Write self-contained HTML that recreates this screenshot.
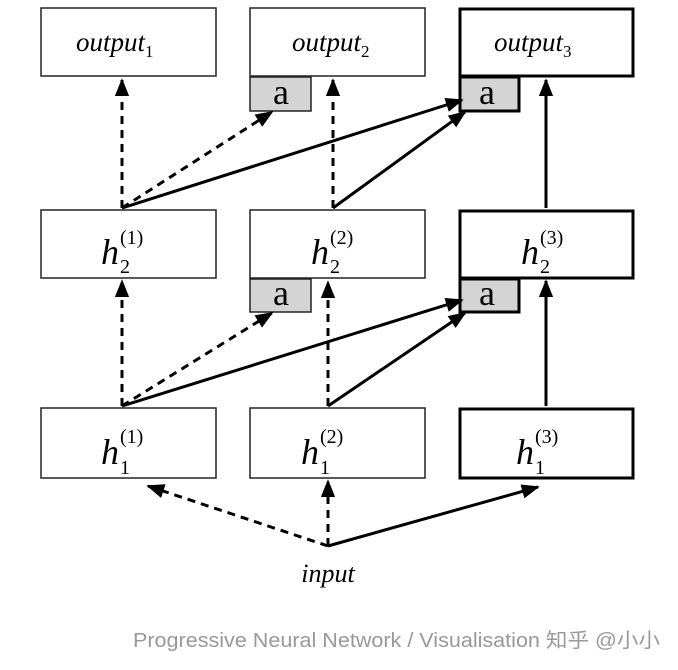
<!DOCTYPE html>
<html><head><meta charset="utf-8"><style>
html,body{margin:0;padding:0;background:#fff;width:678px;height:670px;overflow:hidden}
svg{display:block}
text{font-family:"Liberation Serif",serif}
</style></head><body>
<svg width="678" height="670" viewBox="0 0 678 670" xmlns="http://www.w3.org/2000/svg">
<defs>
<marker id="ah" viewBox="0 0 10 10" refX="9" refY="5" markerWidth="6" markerHeight="6" orient="auto" markerUnits="strokeWidth"><path d="M0,1 L10,5 L0,9 z" fill="#000"/></marker>
</defs>
<g fill="#fff" stroke="#222" stroke-width="1.5">
<rect x="41" y="8" width="175" height="68"/>
<rect x="250" y="8" width="175" height="68"/>
<rect x="41" y="210" width="175" height="68"/>
<rect x="250" y="210" width="175" height="68"/>
<rect x="41" y="408" width="175" height="70"/>
<rect x="250" y="408" width="175" height="70"/>
</g>
<g fill="#fff" stroke="#000" stroke-width="3">
<rect x="460" y="9" width="173" height="67"/>
<rect x="460" y="211" width="173" height="67"/>
<rect x="460" y="409" width="173" height="69"/>
</g>
<g fill="#d4d4d4" stroke="#222" stroke-width="1.5">
<rect x="250" y="77" width="61" height="34"/>
<rect x="250" y="279" width="61" height="33"/>
</g>
<g fill="#d4d4d4" stroke="#000" stroke-width="3">
<rect x="460" y="77" width="59" height="34"/>
<rect x="460" y="279" width="59" height="33"/>
</g>
<g font-size="36" text-anchor="middle">
<text x="281" y="104">a</text><text x="487" y="104">a</text>
<text x="281" y="305">a</text><text x="487" y="305">a</text>
</g>
<g font-size="27" font-style="italic">
<text x="76" y="51">output<tspan font-style="normal" font-size="17" dy="6">1</tspan></text>
<text x="292" y="51">output<tspan font-style="normal" font-size="17" dy="6">2</tspan></text>
<text x="494" y="51">output<tspan font-style="normal" font-size="17" dy="6">3</tspan></text>
</g>
<g font-size="36" font-style="italic">
<text x="101" y="264">h</text><text x="311" y="264">h</text><text x="521" y="264">h</text>
<text x="101" y="464">h</text><text x="301" y="464">h</text><text x="516" y="464">h</text>
</g>
<g font-size="20">
<text x="120" y="273">2</text><text x="330" y="273">2</text><text x="540" y="273">2</text>
<text x="120" y="474">1</text><text x="320" y="474">1</text><text x="535" y="474">1</text>
<text x="120" y="244">(1)</text><text x="330" y="244">(2)</text><text x="540" y="244">(3)</text>
<text x="120" y="443">(1)</text><text x="320" y="443">(2)</text><text x="535" y="443">(3)</text>
</g>
<text x="328" y="582" font-size="26" font-style="italic" text-anchor="middle">input</text>
<g stroke="#000" stroke-width="3" fill="none" marker-end="url(#ah)">
<line x1="122" y1="208" x2="122" y2="80" stroke-dasharray="8,6"/>
<line x1="122" y1="208" x2="272" y2="112" stroke-dasharray="8,6"/>
<line x1="122" y1="208" x2="462" y2="100"/>
<line x1="333" y1="208" x2="333" y2="80" stroke-dasharray="8,6"/>
<line x1="333" y1="208" x2="465" y2="112"/>
<line x1="546" y1="208" x2="546" y2="80"/>
<line x1="122" y1="406" x2="122" y2="281" stroke-dasharray="8,6"/>
<line x1="122" y1="406" x2="272" y2="313" stroke-dasharray="8,6"/>
<line x1="122" y1="406" x2="462" y2="300"/>
<line x1="328" y1="406" x2="465" y2="313"/>
<line x1="328" y1="406" x2="328" y2="282" stroke-dasharray="8,6"/>
<line x1="546" y1="406" x2="546" y2="281"/>
<line x1="328" y1="546" x2="148" y2="486" stroke-dasharray="8,6"/>
<line x1="328" y1="546" x2="328" y2="481" stroke-dasharray="8,6"/>
<line x1="328" y1="546" x2="538" y2="487"/>
</g>
<text x="133" y="647" font-size="20" fill="#999" textLength="527" lengthAdjust="spacingAndGlyphs" style="font-family:'Liberation Sans','Noto Sans CJK SC',sans-serif">Progressive Neural Network / Visualisation 知乎 @小小</text>
</svg>
</body></html>
